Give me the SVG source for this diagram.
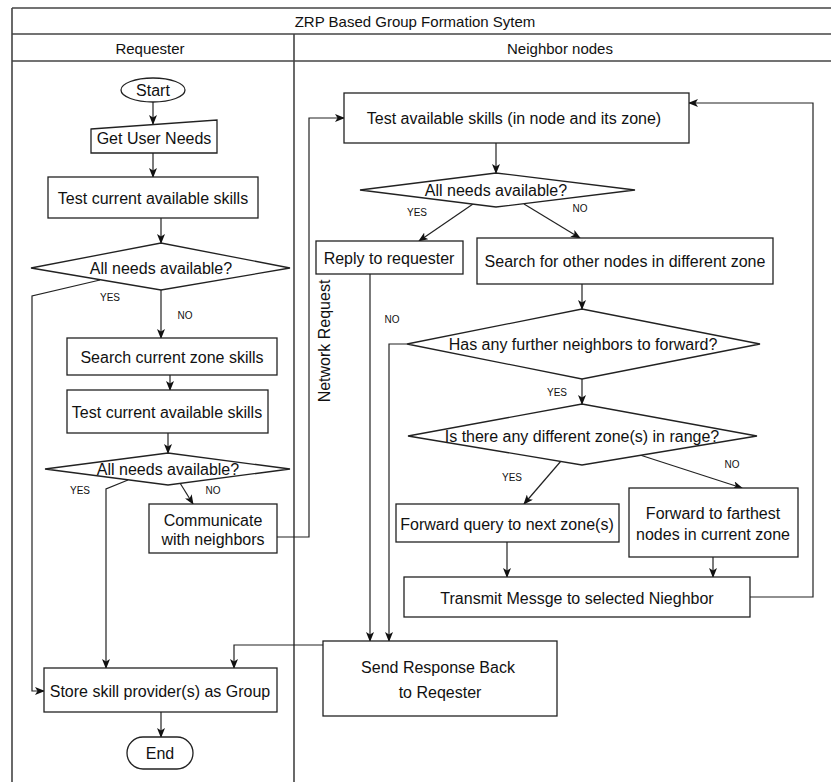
<svg xmlns="http://www.w3.org/2000/svg" width="831" height="782" viewBox="0 0 831 782">
<defs>
<marker id="ah" markerWidth="10" markerHeight="8" refX="9" refY="4" orient="auto" markerUnits="userSpaceOnUse">
<path d="M0,0 L10,4 L0,8 L2.5,4 Z" fill="#111"/>
</marker>
<style>
.frame{fill:none;stroke:#444;stroke-width:1.6}
.box{fill:#fff;stroke:#222;stroke-width:1.3}
.t{font-family:"Liberation Sans",Arial,sans-serif;font-size:16px;fill:#111;text-anchor:middle;dominant-baseline:central}
.h{font-family:"Liberation Sans",Arial,sans-serif;font-size:15px;fill:#111;text-anchor:middle;dominant-baseline:central}
.lbl{font-family:"Liberation Sans",Arial,sans-serif;font-size:10px;fill:#111;text-anchor:middle;dominant-baseline:central}
.c{fill:none;stroke:#222;stroke-width:1.2}
.ca{fill:none;stroke:#222;stroke-width:1.2;marker-end:url(#ah)}
</style>
</defs>
<rect width="831" height="782" fill="#fff"/>
<g id="frame">
<line class="frame" x1="12" y1="8" x2="831" y2="8"/>
<line class="frame" x1="12" y1="8" x2="12" y2="782"/>
<line class="frame" x1="12" y1="34" x2="831" y2="34"/>
<line class="frame" x1="12" y1="61" x2="831" y2="61"/>
<line class="frame" x1="294" y1="34" x2="294" y2="782"/>
<text class="h" x="415" y="21">ZRP Based Group Formation Sytem</text>
<text class="h" x="150" y="48">Requester</text>
<text class="h" x="560" y="48">Neighbor nodes</text>
</g>
<g id="connectors">
<line class="ca" x1="153" y1="102" x2="153" y2="124"/>
<line class="ca" x1="153" y1="153" x2="153" y2="177"/>
<line class="ca" x1="161" y1="218" x2="161" y2="243"/>
<polyline class="ca" points="100,280 32,296 32,691 44,691"/>
<line class="ca" x1="161" y1="290" x2="161" y2="338"/>
<line class="ca" x1="170" y1="375" x2="170" y2="390"/>
<line class="ca" x1="168" y1="433" x2="168" y2="453"/>
<polyline class="ca" points="128,480 106,489 106,668"/>
<line class="ca" x1="180" y1="483" x2="193" y2="504"/>
<polyline class="ca" points="277,537 309,537 309,118 344,118"/>
<line class="ca" x1="496" y1="143" x2="496" y2="173"/>
<line class="ca" x1="473" y1="204" x2="419" y2="241"/>
<line class="ca" x1="524" y1="204" x2="580" y2="238"/>
<line class="ca" x1="370" y1="274" x2="370" y2="641"/>
<line class="ca" x1="582" y1="284" x2="582" y2="309"/>
<polyline class="ca" points="407,344 389,344 389,641"/>
<line class="ca" x1="582" y1="379" x2="582" y2="404"/>
<line class="ca" x1="561" y1="461" x2="524" y2="504"/>
<line class="ca" x1="640" y1="455" x2="742" y2="488"/>
<line class="ca" x1="507" y1="542" x2="507" y2="577"/>
<line class="ca" x1="713" y1="557" x2="713" y2="577"/>
<polyline class="ca" points="750,597 813,597 813,103 689,103"/>
<polyline class="ca" points="323,645 234,645 234,668"/>
<line class="ca" x1="161" y1="712" x2="161" y2="737"/>
<text class="lbl" x="110" y="297">YES</text>
<text class="lbl" x="185" y="315">NO</text>
<text class="lbl" x="80" y="490">YES</text>
<text class="lbl" x="213" y="490">NO</text>
<text class="lbl" x="417" y="212">YES</text>
<text class="lbl" x="580" y="208">NO</text>
<text class="lbl" x="392" y="319">NO</text>
<text class="lbl" x="557" y="392">YES</text>
<text class="lbl" x="512" y="477">YES</text>
<text class="lbl" x="732" y="464">NO</text>
<text class="t" transform="translate(324,341) rotate(-90)">Network Request</text>
</g>
<g id="start">
<ellipse class="box" cx="153" cy="90" rx="32" ry="12"/>
<text class="t" x="153" y="90">Start</text>
</g>
<g id="get-user-needs">
<polygon class="box" points="91,129 217,120 217,153 91,153"/>
<text class="t" x="154" y="138">Get User Needs</text>
</g>
<g id="test-current-1">
<rect class="box" x="48" y="177" width="210" height="41"/>
<text class="t" x="153" y="198">Test current available skills</text>
</g>
<g id="decision-1">
<polygon class="box" points="31,268 161,243 290,268 161,290"/>
<text class="t" x="161" y="268">All needs available?</text>
</g>
<g id="search-zone">
<rect class="box" x="67" y="338" width="210" height="37"/>
<text class="t" x="172" y="357">Search current zone skills</text>
</g>
<g id="test-current-2">
<rect class="box" x="67" y="390" width="201" height="43"/>
<text class="t" x="167" y="412">Test current available skills</text>
</g>
<g id="decision-2">
<polygon class="box" points="45,469 168,453 290,469 168,485"/>
<text class="t" x="168" y="469">All needs available?</text>
</g>
<g id="communicate">
<rect class="box" x="149" y="504" width="128" height="49"/>
<text class="t" x="213" y="520">Communicate</text>
<text class="t" x="213" y="539">with neighbors</text>
</g>
<g id="store">
<rect class="box" x="44" y="668" width="233" height="44"/>
<text class="t" x="160" y="691">Store skill provider(s) as Group</text>
</g>
<g id="end">
<rect class="box" x="127" y="737" width="66" height="32" rx="16" ry="16"/>
<text class="t" x="160" y="753">End</text>
</g>
<g id="test-available">
<rect class="box" x="344" y="93" width="345" height="50"/>
<text class="t" x="514" y="118">Test available skills (in node and its zone)</text>
</g>
<g id="decision-3">
<polygon class="box" points="360,190 496,173 635,190 496,207"/>
<text class="t" x="496" y="190">All needs available?</text>
</g>
<g id="reply">
<rect class="box" x="316" y="241" width="147" height="33"/>
<text class="t" x="389" y="258">Reply to requester</text>
</g>
<g id="search-other">
<rect class="box" x="477" y="238" width="296" height="46"/>
<text class="t" x="625" y="261">Search for other nodes in different zone</text>
</g>
<g id="decision-4">
<polygon class="box" points="407,344 582,309 760,344 582,379"/>
<text class="t" x="583" y="344">Has any further neighbors to forward?</text>
</g>
<g id="decision-5">
<polygon class="box" points="408,436 582,404 757,436 582,465"/>
<text class="t" x="582" y="436">Is there any different zone(s) in range?</text>
</g>
<g id="forward-next">
<rect class="box" x="396" y="504" width="223" height="38"/>
<text class="t" x="507" y="524">Forward query to next zone(s)</text>
</g>
<g id="forward-farthest">
<rect class="box" x="629" y="488" width="169" height="69"/>
<text class="t" x="713" y="513">Forward to farthest</text>
<text class="t" x="713" y="534">nodes in current zone</text>
</g>
<g id="transmit">
<rect class="box" x="404" y="577" width="346" height="40"/>
<text class="t" x="577" y="598">Transmit Messge to selected Nieghbor</text>
</g>
<g id="send-response">
<rect class="box" x="323" y="641" width="234" height="75"/>
<text class="t" x="438" y="667">Send Response Back</text>
<text class="t" x="440" y="692">to Reqester</text>
</g>
</svg>
